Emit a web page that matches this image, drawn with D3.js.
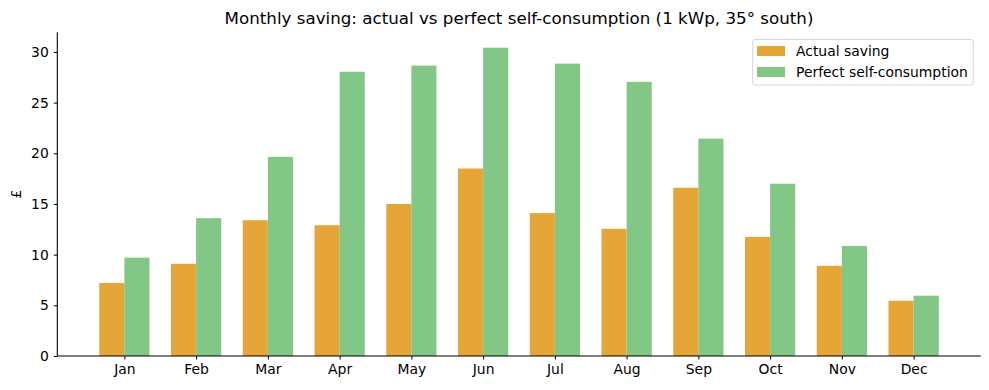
<!DOCTYPE html>
<html><head><meta charset="utf-8">
<script src="https://cdn.jsdelivr.net/npm/d3@7"></script>
<style>body{margin:0;background:#fff}svg{display:block}text{font-family:"DejaVu Sans",sans-serif;fill:#000}</style>
</head><body><svg id="c" width="989" height="390"></svg>
<script>
const months = ["Jan","Feb","Mar","Apr","May","Jun","Jul","Aug","Sep","Oct","Nov","Dec"];
const actual = [7.2,9.1,13.4,12.9,15.0,18.5,14.1,12.55,16.6,11.75,8.9,5.45];
const perfect = [9.7,13.6,19.65,28.05,28.65,30.42,28.85,27.05,21.45,17.0,10.85,5.95];
const yTicks = [0,5,10,15,20,25,30];
const seriesNames = ["Actual saving","Perfect self-consumption"];
const colors = ["#e6a637","#82c785"];

const svg = d3.select("#c");
const L=57.3, R=980.7, T=32.2, B=356;
const bw = 0.35;
const x = d3.scaleLinear().domain([-0.935, 11.935]).range([L,R]);
const y = d3.scaleLinear().domain([0, 31.95]).range([B,T]);

const g = svg.append("g");
[actual, perfect].forEach((vals,si)=>{
  g.selectAll(null).data(vals).enter().append("rect")
    .attr("x",(d,i)=>x(i + (si===0 ? -bw : 0)))
    .attr("width",x(bw)-x(0))
    .attr("y",d=>y(d))
    .attr("height",d=>y(0)-y(d))
    .attr("fill",colors[si]);
});

const xAxis = d3.axisBottom(x).tickValues(d3.range(12)).tickFormat(i=>months[i]).tickSizeOuter(0).tickSize(3.5).tickPadding(5);
const gx = svg.append("g").attr("transform",`translate(0,${B})`).call(xAxis);
gx.select(".domain").attr("d",`M${L},0H${R}`);
const yAxis = d3.axisLeft(y).tickValues(yTicks).tickSizeOuter(0).tickSize(3.5).tickPadding(5);
const gy = svg.append("g").attr("transform",`translate(${L},0)`).call(yAxis);
gy.select(".domain").attr("d",`M0,${B}V${T}`);
svg.selectAll(".tick text").style("font-size","13.9px").style("font-family","DejaVu Sans");
svg.selectAll(".domain").attr("stroke","#000").attr("stroke-width",1.1);
svg.selectAll(".tick line").attr("stroke","#000").attr("stroke-width",1);

svg.append("text").attr("x",(L+R)/2).attr("y",24).attr("text-anchor","middle")
  .style("font-size","16.7px").text("Monthly saving: actual vs perfect self-consumption (1 kWp, 35° south)");
svg.append("text").attr("transform",`translate(21,${(T+B)/2}) rotate(-90)`).attr("text-anchor","middle")
  .style("font-size","13.9px").text("£");

const lg = svg.append("g");
lg.append("rect").attr("x",752.7).attr("y",39.5).attr("width",220.6).attr("height",45.5).attr("rx",2.5)
  .attr("fill","#fff").attr("fill-opacity",0.8).attr("stroke","#d6d6d6").attr("stroke-width",1);
seriesNames.forEach((n,i)=>{
  const cy = 51 + i*21;
  lg.append("rect").attr("x",757).attr("y",cy-5).attr("width",28).attr("height",10).attr("fill",colors[i]);
  lg.append("text").attr("x",796).attr("y",cy+5).style("font-size","13.9px").text(n);
});
</script></body></html>
